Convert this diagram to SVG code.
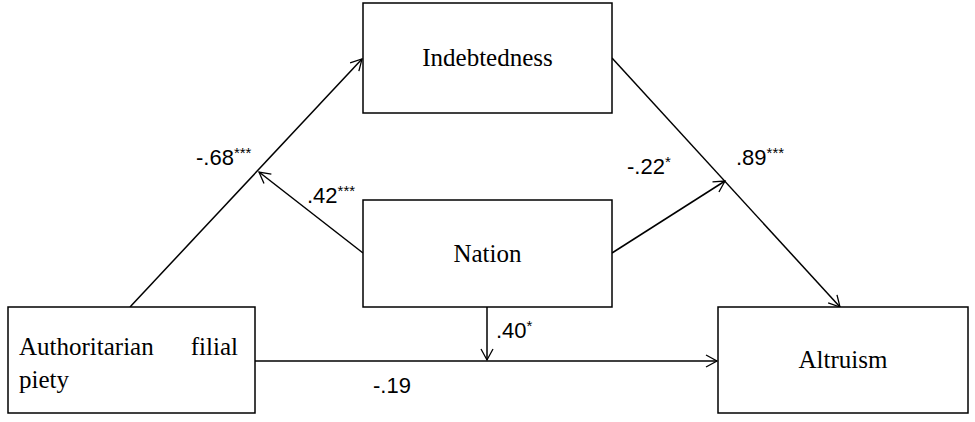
<svg xmlns="http://www.w3.org/2000/svg" width="975" height="422" viewBox="0 0 975 422">
<style>
.box{fill:#fff;stroke:#000;stroke-width:1.5}
.bt{font-family:"Liberation Serif",serif;font-size:25px;fill:#000}
.lb{font-family:"Liberation Sans",sans-serif;font-size:22px;fill:#000}
.sup{font-size:15px}
.ln{stroke:#000;stroke-width:1.5;fill:none;marker-end:url(#a)}
</style>
<defs><marker id="a" markerWidth="14" markerHeight="14" refX="12" refY="7" orient="auto" markerUnits="userSpaceOnUse"><path d="M1,1 L12,7 L1,13" fill="none" stroke="#000" stroke-width="1.3"/></marker></defs>
<g id="connectors">
<line class="ln" x1="130" y1="307" x2="362" y2="59"/>
<line class="ln" x1="363" y1="253" x2="259" y2="172"/>
<line class="ln" x1="612" y1="58" x2="840" y2="307"/>
<line class="ln" x1="612" y1="253" x2="725" y2="181"/>
<line class="ln" x1="255" y1="361" x2="717" y2="361"/>
<line class="ln" x1="487" y1="307" x2="487" y2="360"/>
</g>
<g id="indebtedness"><rect class="box" x="363" y="3" width="249" height="110"/><text class="bt" x="487.5" y="66" text-anchor="middle">Indebtedness</text></g>
<g id="nation"><rect class="box" x="363" y="200" width="249" height="107"/><text class="bt" x="487.5" y="262" text-anchor="middle">Nation</text></g>
<g id="afp"><rect class="box" x="8" y="307" width="247" height="106"/><text class="bt" x="19" y="355">Authoritarian</text><text class="bt" x="238" y="355" text-anchor="end">filial</text><text class="bt" x="19" y="388">piety</text></g>
<g id="altruism"><rect class="box" x="718" y="307" width="250" height="106"/><text class="bt" x="843" y="368" text-anchor="middle">Altruism</text></g>
<g id="labels">
<text class="lb" x="196" y="165">-.68<tspan class="sup" dy="-7">***</tspan></text>
<text class="lb" x="307" y="203">.42<tspan class="sup" dy="-7">***</tspan></text>
<text class="lb" x="627" y="174">-.22<tspan class="sup" dy="-7">*</tspan></text>
<text class="lb" x="736" y="165">.89<tspan class="sup" dy="-7">***</tspan></text>
<text class="lb" x="496" y="338">.40<tspan class="sup" dy="-7">*</tspan></text>
<text class="lb" x="373" y="393">-.19</text>
</g>
</svg>
